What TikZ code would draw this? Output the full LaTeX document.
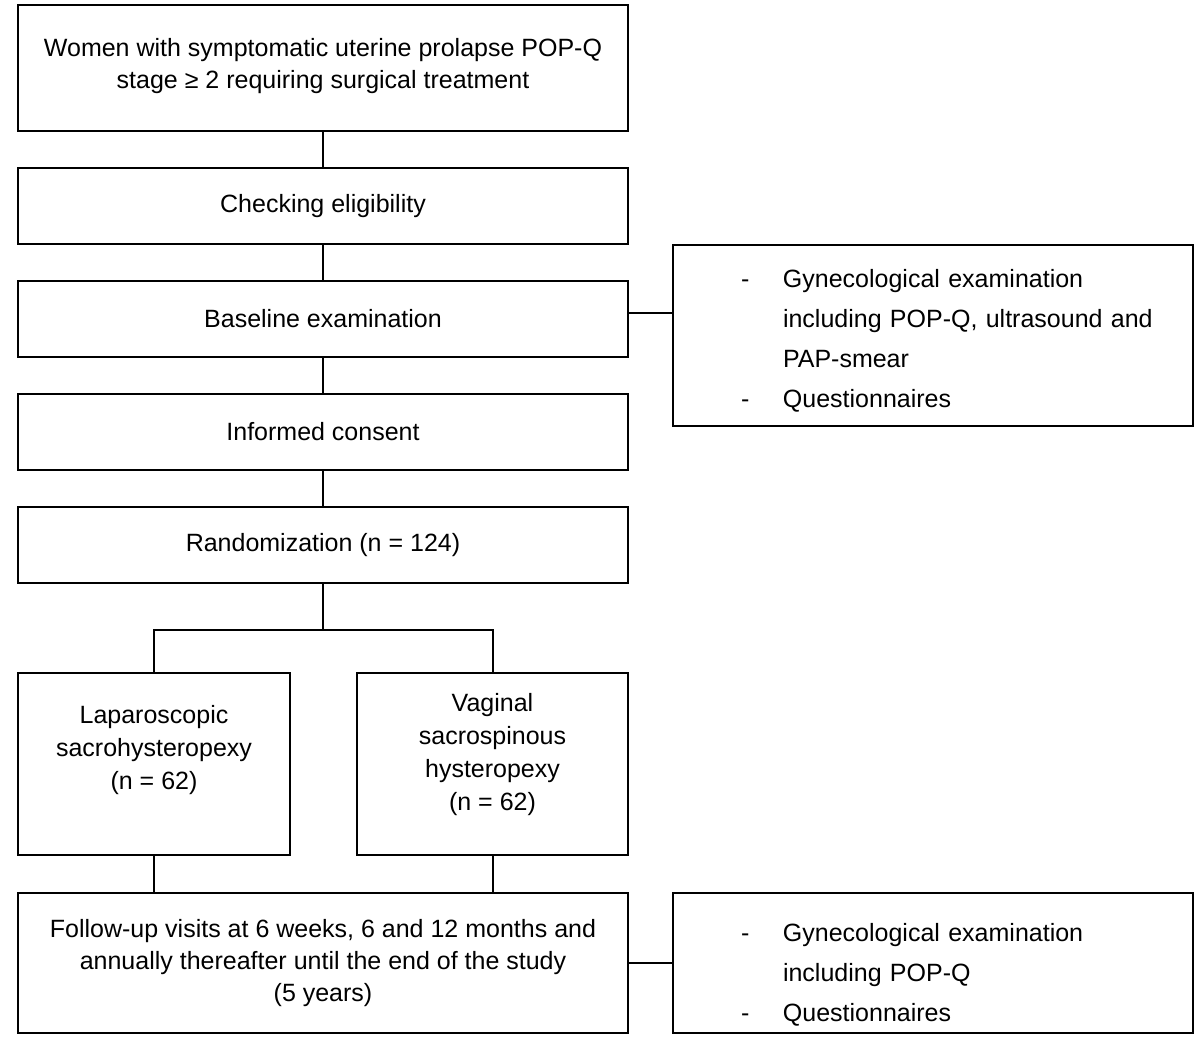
\documentclass[tikz,border=0pt]{standalone}
\usepackage{fontspec}
\setmainfont{Liberation Sans}
\usepackage{tikz}
\usetikzlibrary{calc}
\newcommand{\sidelist}[2][0pt]{\raisebox{-#1}[\height][\depth]{\begin{tabular}{@{\hspace{34pt}}p{21pt}@{}l@{}}#2\end{tabular}}}

\begin{document}
\begin{tikzpicture}[x=0.5pt,y=-0.5pt,line width=1pt,
  stagebox/.style={draw,rectangle,inner sep=0pt,align=center,minimum width=305pt,minimum height=38pt,font=\fontsize{12.5}{16}\selectfont},
  armbox/.style={draw,rectangle,inner sep=0pt,align=center,minimum height=91pt,font=\fontsize{12.5}{16.5}\selectfont},
  notebox/.style={draw,rectangle,inner sep=0pt,align=left,text width=260pt,minimum width=260pt,font=\fontsize{12.5}{16}\selectfont\renewcommand{\arraystretch}{1.25}}]
        \useasboundingbox (0,0) rectangle (1200,1047);

        %boxes
        \node[stagebox,minimum height=63pt] (women) at (323,68) {Women with symptomatic uterine prolapse POP-Q\\stage ≥ 2 requiring surgical treatment\\[-11pt]\mbox{}};
        \node[stagebox] (check) at (323,206) {Checking eligibility};
        \node[stagebox] (base) at (323,319) {Baseline examination};
        \node[stagebox] (consent) at (323,432) {Informed consent};
        \node[stagebox] (rand) at (323,545) {Randomization (n = 124)};
        \node[armbox,minimum width=136pt] (lap) at (154,764) {Laparoscopic\\sacrohysteropexy\\(n = 62)\\\mbox{}};
        \node[armbox,minimum width=135.5pt] (vag) at (492.5,764) {Vaginal\\sacrospinous\\hysteropexy\\(n = 62)\\[-4.5pt]\mbox{}};
        \node[stagebox,minimum height=70pt] (follow) at (323,963) {Follow-up visits at 6 weeks, 6 and 12 months and\\annually thereafter until the end of the study\\(5 years)};
        \node[notebox,minimum height=90.5pt] (basenote) at (933,335.5) {\sidelist[2pt]{- & Gynecological examination\\ & including POP-Q, ultrasound and\\ & PAP-smear\\ - & Questionnaires}};
        \node[notebox,minimum height=70pt] (follownote) at (933,963) {\sidelist[5pt]{- & Gynecological examination\\ & including POP-Q\\ - & Questionnaires}};
        \coordinate (split) at (323,630);

        %edges
        \draw (women) -- (check);
        \draw (check) -- (base);
        \draw (base) -- (consent);
        \draw (consent) -- (rand);
        \draw ($(base.east)+(0,-6)$) -- ($(base.east -| basenote.west)+(0,-6)$);
        \draw (rand) -- (split);
        \draw (lap.north) |- (split) -| (vag.north);
        \draw (lap.south) -- (lap.south |- follow.north);
        \draw (vag.south) -- (vag.south |- follow.north);
        \draw (follow) -- (follownote);

\end{tikzpicture}
\end{document}
